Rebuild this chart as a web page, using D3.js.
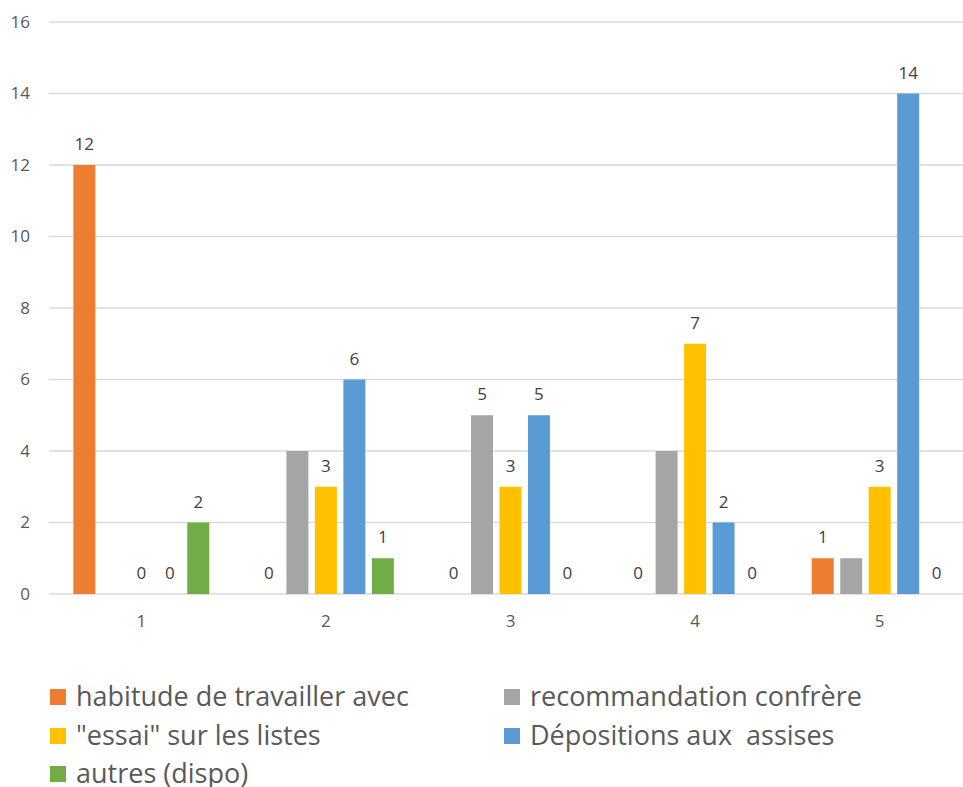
<!DOCTYPE html>
<html>
<head>
<meta charset="utf-8">
<script src="https://cdn.jsdelivr.net/npm/d3@7"></script>
<style>
  body { margin: 0; background: #fff; }
  svg { display: block; font-family: "Open Sans", sans-serif; }
</style>
</head>
<body>
<svg width="963" height="787"></svg>
<script>
// categories and series
var categories = ["1", "2", "3", "4", "5"];
var seriesNames = ["habitude de travailler avec", "recommandation confrère",
  "\"essai\" sur les listes", "Dépositions aux  assises", "autres (dispo)"];
var habitude = [12, 0, 0, 0, 1];
var recommandation = [null, 4, 5, 4, 1];
var essai = [0, 3, 3, 7, 3];
var depositions = [0, 6, 5, 2, 14];
var autres = [2, 1, 0, 0, 0];
// which data labels are visible in the source chart
var habitudeLabels = [true, true, true, true, true];
var recommandationLabels = [false, false, true, false, false];
var essaiLabels = [true, true, true, true, true];
var depositionsLabels = [true, true, true, true, true];
var autresLabels = [true, true, true, true, true];
var yTicks = [0, 2, 4, 6, 8, 10, 12, 14, 16];
var colors = ["#ED7D31", "#A5A5A5", "#FFC000", "#5B9BD5", "#70AD47"];

var allValues = [habitude, recommandation, essai, depositions, autres];
var allLabels = [habitudeLabels, recommandationLabels, essaiLabels, depositionsLabels, autresLabels];

var svg = d3.select("svg"),
  margin = { top: 22, left: 49 },
  width = 923,
  height = 572;

var x0 = d3.scaleBand().domain(categories).range([0, width]).padding(0);
var x1 = d3.scaleBand().domain(seriesNames).range([0, x0.bandwidth()])
  .paddingInner(0.228).paddingOuter(0.855);
var y = d3.scaleLinear().domain([0, 16]).range([height, 0]);

var g = svg.append("g")
  .attr("transform", "translate(" + margin.left + "," + margin.top + ")");

// gridlines
g.selectAll("line.grid")
  .data(yTicks)
  .enter()
  .append("line")
  .attr("class", "grid")
  .attr("x1", 0)
  .attr("x2", width)
  .attr("y1", function(d) { return y(d); })
  .attr("y2", function(d) { return y(d); })
  .attr("stroke", "#d9d9d9")
  .attr("stroke-width", 1.5);

// y tick labels
g.selectAll("text.ytick")
  .data(yTicks)
  .enter()
  .append("text")
  .attr("class", "ytick")
  .attr("x", -19)
  .attr("y", function(d) { return y(d); })
  .attr("dy", "0.35em")
  .attr("text-anchor", "end")
  .attr("fill", "#595959")
  .style("font-size", "17px")
  .text(function(d) { return d; });

// x tick labels
g.selectAll("text.xtick")
  .data(categories)
  .enter()
  .append("text")
  .attr("class", "xtick")
  .attr("x", function(d) { return x0(d) + x0.bandwidth() / 2; })
  .attr("y", height + 27)
  .attr("dy", "0.35em")
  .attr("text-anchor", "middle")
  .attr("fill", "#595959")
  .style("font-size", "17px")
  .text(function(d) { return d; });

// bars
var rows = [];
seriesNames.forEach(function(s, si) {
  categories.forEach(function(c, ci) {
    rows.push({ series: s, cat: c, value: allValues[si][ci], label: allLabels[si][ci], color: colors[si] });
  });
});

g.selectAll("rect.bar")
  .data(rows.filter(function(d) { return d.value; }))
  .enter()
  .append("rect")
  .attr("class", "bar")
  .attr("x", function(d) { return x0(d.cat) + x1(d.series); })
  .attr("y", function(d) { return y(d.value); })
  .attr("width", x1.bandwidth())
  .attr("height", function(d) { return height - y(d.value); })
  .attr("fill", function(d) { return d.color; });

// data labels
g.selectAll("text.val")
  .data(rows.filter(function(d) { return d.value !== null && d.label; }))
  .enter()
  .append("text")
  .attr("class", "val")
  .attr("x", function(d) { return x0(d.cat) + x1(d.series) + x1.bandwidth() / 2; })
  .attr("y", function(d) { return y(d.value) - 15; })
  .attr("text-anchor", "middle")
  .attr("fill", "#404040")
  .style("font-size", "17px")
  .text(function(d) { return d.value; });

// legend
var legendPos = [[50, 689], [504, 689], [50, 728], [504, 728], [50, 766]];
var legend = svg.selectAll("g.legend")
  .data(seriesNames)
  .enter()
  .append("g")
  .attr("class", "legend")
  .attr("transform", function(d, i) { return "translate(" + legendPos[i][0] + "," + legendPos[i][1] + ")"; });

legend.append("rect")
  .attr("width", 16)
  .attr("height", 16)
  .attr("fill", function(d, i) { return colors[i]; });

legend.append("text")
  .attr("x", 26)
  .attr("y", 17)
  .attr("fill", "#595959")
  .style("font-size", "27px")
  .style("white-space", "pre")
  .text(function(d) { return d; });
</script>
</body>
</html>
